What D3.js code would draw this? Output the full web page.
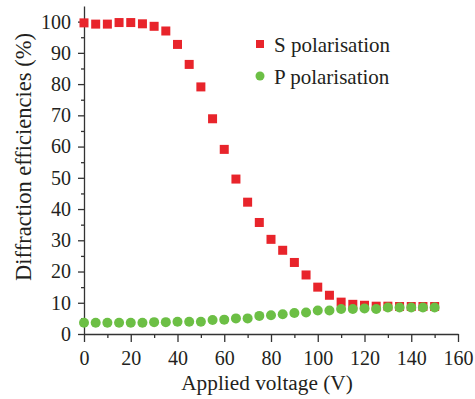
<!DOCTYPE html>
<html>
<head>
<meta charset="utf-8">
<script src="https://cdn.jsdelivr.net/npm/d3@7"></script>
<style>
  body { margin: 0; background: #fff; }
  .axis path, .axis line { stroke: #333; stroke-width: 1.3; }
</style>
</head>
<body>
<svg class="chart"></svg>
<script>
// data
var voltage = [0, 5, 10, 15, 20, 25, 30, 35, 40, 45, 50, 55, 60, 65, 70, 75,
  80, 85, 90, 95, 100, 105, 110, 115, 120, 125, 130, 135, 140, 145, 150];
var sPol = [99.6, 99.2, 99.2, 99.7, 99.7, 99.3, 98.5, 97.0, 92.7, 86.3, 79.1, 68.9,
  59.1, 49.6, 42.2, 35.7, 30.3, 26.8, 22.9, 18.9, 15.0, 12.4, 10.2, 9.5, 9.2,
  8.9, 8.9, 8.8, 8.8, 8.8, 8.8];
var pPol = [3.6, 3.6, 3.6, 3.6, 3.6, 3.6, 3.8, 3.8, 3.9, 3.9, 3.9, 4.5,
  4.6, 5.0, 5.0, 5.8, 6.0, 6.3, 6.7, 6.9, 7.5, 7.5, 8.0, 8.0, 8.2,
  8.0, 8.5, 8.5, 8.5, 8.5, 8.5];
var seriesNames = ['S polarisation', 'P polarisation'];
var xTicks = [0, 20, 40, 60, 80, 100, 120, 140, 160];
var xMinor = [10, 30, 50, 70, 90, 110, 130, 150];
var yTicks = [0, 10, 20, 30, 40, 50, 60, 70, 80, 90, 100];
var yMinor = [5, 15, 25, 35, 45, 55, 65, 75, 85, 95];

// chart
var width = 475;
var height = 399;
var red = '#e8242b';
var green = '#6cbf45';
var font = "'Liberation Serif', 'Times New Roman', serif";
var textColor = '#231f20';

var chart = d3.select('.chart')
    .attr('width', width)
    .attr('height', height);

var x = d3.scaleLinear()
    .domain([0, 160])
    .range([84, 458]);

var y = d3.scaleLinear()
    .domain([0, 105])
    .range([334, 6]);

// minor ticks first
chart.append('g')
    .attr('class', 'axis')
    .attr('transform', 'translate(0,' + y(0) + ')')
    .call(d3.axisBottom(x).tickValues(xMinor).tickSize(4).tickFormat(''))
    .select('.domain').remove();

chart.append('g')
    .attr('class', 'axis')
    .attr('transform', 'translate(' + x(0) + ',0)')
    .call(d3.axisLeft(y).tickValues(yMinor).tickSize(3).tickFormat(''))
    .select('.domain').remove();

// major axes
var xAxisG = chart.append('g')
    .attr('class', 'x axis')
    .attr('transform', 'translate(0,' + y(0) + ')')
    .call(d3.axisBottom(x).tickValues(xTicks).tickSizeInner(8).tickSizeOuter(0).tickPadding(9));

var yAxisG = chart.append('g')
    .attr('class', 'y axis')
    .attr('transform', 'translate(' + x(0) + ',0)')
    .call(d3.axisLeft(y).tickValues(yTicks).tickSizeInner(6).tickSizeOuter(0).tickPadding(7));

[xAxisG, yAxisG].forEach(function(g) {
  g.attr('font-family', font).attr('font-size', 20);
  g.selectAll('text').style('font-family', font).style('font-size', '20px').attr('fill', textColor);
});

// S polarisation squares
var sq = 9;
chart.selectAll('.sPoint')
    .data(voltage)
  .enter().append('rect')
    .attr('class', 'sPoint')
    .attr('x', function(d) { return x(d) - sq / 2; })
    .attr('y', function(d, i) { return y(sPol[i]) - sq / 2; })
    .attr('width', sq)
    .attr('height', sq)
    .attr('fill', red);

// P polarisation circles
chart.selectAll('.pPoint')
    .data(voltage)
  .enter().append('circle')
    .attr('class', 'pPoint')
    .attr('cx', function(d) { return x(d); })
    .attr('cy', function(d, i) { return y(pPol[i]); })
    .attr('r', 5)
    .attr('fill', green);

function label(xp, yp, str, size) {
  return chart.append('text')
      .attr('x', xp).attr('y', yp)
      .style('font-family', font)
      .style('font-size', (size || 21) + 'px')
      .attr('fill', textColor)
      .text(str);
}

// legend
chart.append('rect')
    .attr('x', 256).attr('y', 40)
    .attr('width', 8).attr('height', 8)
    .attr('fill', red);
chart.append('circle')
    .attr('cx', 260).attr('cy', 76)
    .attr('r', 4.5)
    .attr('fill', green);
label(274, 52, seriesNames[0]);
label(274, 84, seriesNames[1]);

// axes labels
label(267, 389.5, 'Applied voltage (V)', 21.3)
    .attr('text-anchor', 'middle');

label(0, 0, 'Diffraction efficiencies (%)', 22.5)
    .attr('text-anchor', 'middle')
    .attr('transform', 'translate(31,157) rotate(-90)');
</script>
</body>
</html>
